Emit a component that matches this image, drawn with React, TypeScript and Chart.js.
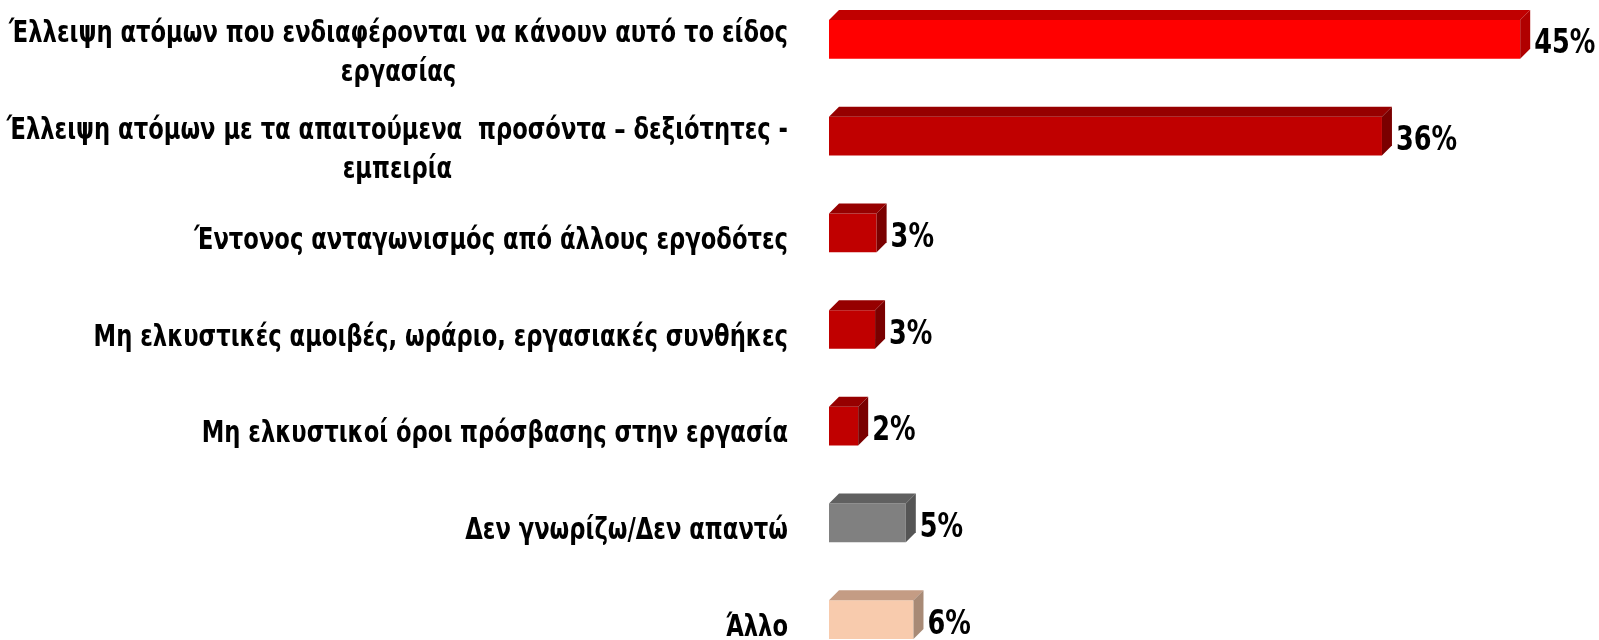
import React, { useEffect, useRef } from "react";
import { Chart, registerables } from "chart.js";

Chart.register(...registerables);

const categories: (string | string[])[] = [
  ["Έλλειψη ατόμων που ενδιαφέρονται να κάνουν αυτό το είδος", "εργασίας"],
  ["Έλλειψη ατόμων με τα απαιτούμενα  προσόντα – δεξιότητες -", "εμπειρία"],
  "Έντονος ανταγωνισμός από άλλους εργοδότες",
  "Μη ελκυστικές αμοιβές, ωράριο, εργασιακές συνθήκες",
  "Μη ελκυστικοί όροι πρόσβασης στην εργασία",
  "Δεν γνωρίζω/Δεν απαντώ",
  "Άλλο",
];

const values = [45, 36, 3.1, 3.0, 1.9, 5, 5.5];

const frontColors = ["#FF0000", "#C00000", "#C00000", "#C00000", "#C00000", "#808080", "#F8CBAD"];
const topColors = ["#C00000", "#960000", "#960000", "#960000", "#960000", "#606060", "#C49C84"];
const sideColors = ["#B00000", "#7A0000", "#7A0000", "#7A0000", "#7A0000", "#555555", "#A88A76"];

const LABEL_FONT = "bold 30px 'DejaVu Sans Condensed', 'DejaVu Sans', sans-serif";
const VALUE_FONT = "bold 33px 'DejaVu Sans Condensed', 'DejaVu Sans', sans-serif";
const LABEL_SX = 0.84;
const VALUE_SX = 0.86;

const threeD = {
  id: "threeD",
  afterDatasetsDraw(chart: any) {
    const ctx = chart.ctx;
    const meta = chart.getDatasetMeta(0);
    const d = 10;
    meta.data.forEach((bar: any, i: number) => {
      const x0 = bar.base;
      const x1 = bar.x;
      const yt = bar.y - bar.height / 2;
      const yb = bar.y + bar.height / 2;
      ctx.save();
      ctx.fillStyle = topColors[i];
      ctx.beginPath();
      ctx.moveTo(x0, yt);
      ctx.lineTo(x0 + d, yt - d);
      ctx.lineTo(x1 + d, yt - d);
      ctx.lineTo(x1, yt);
      ctx.closePath();
      ctx.fill();
      ctx.fillStyle = sideColors[i];
      ctx.beginPath();
      ctx.moveTo(x1, yt);
      ctx.lineTo(x1 + d, yt - d);
      ctx.lineTo(x1 + d, yb - d);
      ctx.lineTo(x1, yb);
      ctx.closePath();
      ctx.fill();
      // value label
      ctx.fillStyle = "#000";
      ctx.font = VALUE_FONT;
      ctx.textAlign = "left";
      ctx.textBaseline = "alphabetic";
      ctx.translate(x1 + 14, bar.y + 14);
      ctx.scale(VALUE_SX, 1);
      ctx.fillText(Math.round(values[i]) + "%", 0, 0);
      ctx.restore();
    });
  },
  afterDraw(chart: any) {
    const ctx = chart.ctx;
    const yScale = chart.scales.y;
    const right = chart.chartArea.left - 41;
    ctx.save();
    ctx.font = LABEL_FONT;
    ctx.fillStyle = "#000";
    ctx.textAlign = "center";
    ctx.textBaseline = "alphabetic";
    categories.forEach((c, i) => {
      const lines = Array.isArray(c) ? c : [c];
      const w = Math.max(...lines.map((l) => ctx.measureText(l).width)) * LABEL_SX;
      const cy = yScale.getPixelForTick(i);
      const cx = right - w / 2;
      const ys = lines.length === 1 ? [cy + 16] : lines.map((_, j) => cy + 3 + j * 39);
      lines.forEach((l, j) => {
        ctx.save();
        ctx.translate(cx, ys[j]);
        ctx.scale(LABEL_SX, 1);
        ctx.fillText(l, 0, 0);
        ctx.restore();
      });
    });
    ctx.restore();
  },
};

export default function App() {
  const ref = useRef<HTMLCanvasElement>(null);
  useEffect(() => {
    if (!ref.current) return;
    const chart = new Chart(ref.current, {
      type: "bar",
      data: {
        labels: categories as any,
        datasets: [
          {
            data: values,
            backgroundColor: frontColors,
            borderWidth: 0,
            barPercentage: 0.4,
            categoryPercentage: 1,
          },
        ],
      },
      options: {
        indexAxis: "y",
        animation: false,
        responsive: false,
        layout: { padding: { left: 829, right: 2, top: 0, bottom: 0 } },
        plugins: { legend: { display: false }, tooltip: { enabled: false } },
        scales: {
          x: { display: false, min: 0, max: 50 },
          y: { display: false },
        },
      },
      plugins: [threeD],
    });
    return () => chart.destroy();
  }, []);
  return (
    <div style={{ position: "absolute", left: 0, top: -9, width: 1599, height: 677 }}>
      <canvas ref={ref} width={1599} height={677} style={{ display: "block" }} />
    </div>
  );
}
